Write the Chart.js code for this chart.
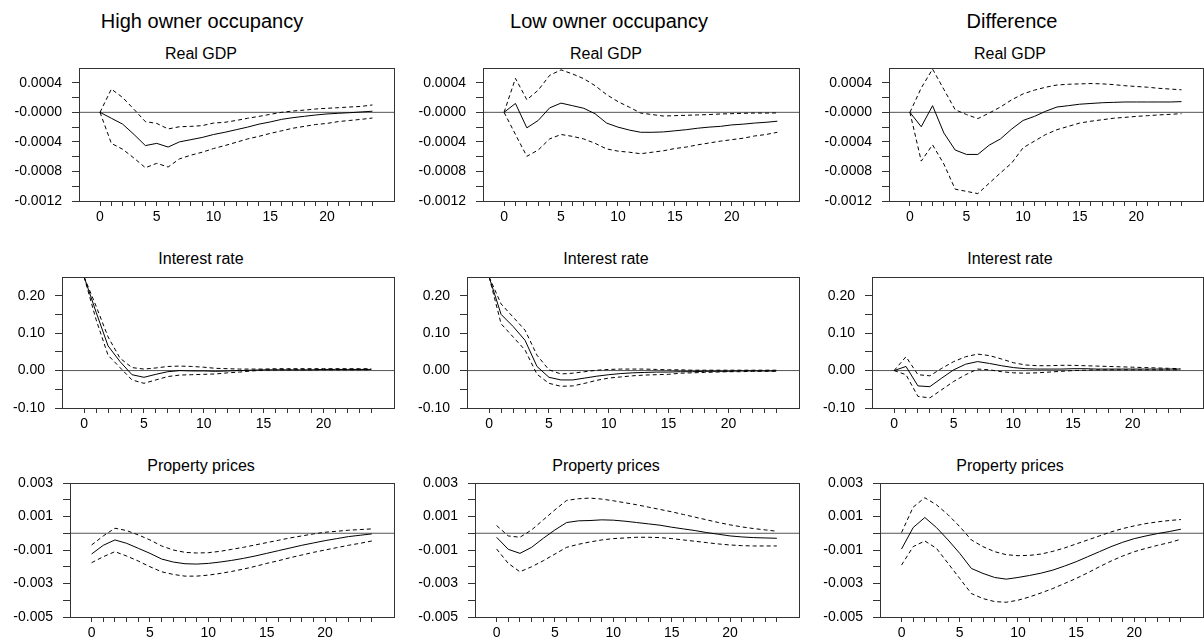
<!DOCTYPE html>
<html>
<head>
<meta charset="utf-8">
<script src="https://cdn.jsdelivr.net/npm/chart.js@4.4.1/dist/chart.umd.min.js"></script>
<style>
  body { margin: 0; width: 1204px; height: 640px; background: #fff; position: relative; overflow: hidden; font-family: "Liberation Sans", Arial, sans-serif; color: #000; }
  .head { position: absolute; width: 300px; text-align: center; font-size: 20px; line-height: 20px; white-space: nowrap; }
  .sub { position: absolute; width: 300px; text-align: center; font-size: 16px; line-height: 16px; white-space: nowrap; }
  canvas { position: absolute; }
</style>
</head>
<body>
<script>
// horizon (quarters) and x axis
const steps = [0, 1, 2, 3, 4, 5, 6, 7, 8, 9, 10, 11, 12, 13, 14, 15, 16, 17, 18, 19, 20, 21, 22, 23, 24];
const xRange = [-1.85, 25.9];
const xTickValues = [0, 5, 10, 15, 20];
const xTickLabels = ['0', '5', '10', '15', '20'];

const columnTitles = ['High owner occupancy', 'Low owner occupancy', 'Difference'];
const rowTitles = ['Real GDP', 'Interest rate', 'Property prices'];

// y axes
const gdpRange = [-0.0012, 0.0006];
const gdpMajor = [-0.0012, -0.0008, -0.0004, 0, 0.0004];
const gdpLabels = ['-0.0012', '-0.0008', '-0.0004', '-0.0000', '0.0004'];
const gdpMinor = [-0.001, -0.0006, -0.0002, 0.0002];

const rateRange = [-0.10, 0.25];
const rateMajor = [-0.10, 0, 0.10, 0.20];
const rateLabels = ['-0.10', '0.00', '0.10', '0.20'];
const rateMinor = [-0.05, 0.05, 0.15];

const propRange = [-0.005, 0.003];
const propMajor = [-0.005, -0.003, -0.001, 0.001, 0.003];
const propLabels = ['-0.005', '-0.003', '-0.001', '0.001', '0.003'];
const propMinor = [-0.004, -0.002, 0, 0.002];

// Real GDP
const hooGdp   = [0, -0.8e-4, -1.6e-4, -3.0e-4, -4.5e-4, -4.2e-4, -4.7e-4, -4.0e-4, -3.7e-4, -3.4e-4, -3.0e-4, -2.7e-4, -2.35e-4, -2.0e-4, -1.6e-4, -1.3e-4, -0.95e-4, -0.72e-4, -0.54e-4, -0.36e-4, -0.22e-4, -0.13e-4, -0.05e-4, 0.05e-4, 0.15e-4];
const hooGdpUp = [0, 3.15e-4, 2.0e-4, 0.4e-4, -1.26e-4, -1.5e-4, -2.25e-4, -1.95e-4, -1.9e-4, -1.8e-4, -1.45e-4, -1.35e-4, -1.1e-4, -0.8e-4, -0.55e-4, -0.27e-4, 0, 0.18e-4, 0.3e-4, 0.45e-4, 0.55e-4, 0.63e-4, 0.72e-4, 0.8e-4, 1.0e-4];
const hooGdpLo = [0, -4.2e-4, -5.0e-4, -6.2e-4, -7.5e-4, -6.9e-4, -7.4e-4, -6.3e-4, -5.8e-4, -5.4e-4, -4.9e-4, -4.5e-4, -4.05e-4, -3.6e-4, -3.25e-4, -2.85e-4, -2.5e-4, -2.15e-4, -1.9e-4, -1.65e-4, -1.5e-4, -1.25e-4, -1.1e-4, -0.95e-4, -0.77e-4];

const looGdp   = [0, 1.2e-4, -2.1e-4, -1.1e-4, 0.6e-4, 1.25e-4, 0.9e-4, 0.55e-4, -0.2e-4, -1.45e-4, -2.0e-4, -2.4e-4, -2.7e-4, -2.7e-4, -2.65e-4, -2.5e-4, -2.35e-4, -2.15e-4, -2.0e-4, -1.9e-4, -1.7e-4, -1.6e-4, -1.45e-4, -1.35e-4, -1.2e-4];
const looGdpUp = [0, 4.6e-4, 1.7e-4, 3.0e-4, 5.0e-4, 5.75e-4, 5.2e-4, 4.55e-4, 3.6e-4, 2.4e-4, 1.45e-4, 0.7e-4, -0.1e-4, -0.3e-4, -0.5e-4, -0.45e-4, -0.4e-4, -0.35e-4, -0.3e-4, -0.22e-4, -0.18e-4, -0.13e-4, -0.1e-4, -0.1e-4, -0.08e-4];
const looGdpLo = [0, -3.0e-4, -5.95e-4, -5.1e-4, -3.6e-4, -3.0e-4, -3.25e-4, -3.6e-4, -4.2e-4, -4.95e-4, -5.25e-4, -5.4e-4, -5.6e-4, -5.4e-4, -5.2e-4, -4.9e-4, -4.7e-4, -4.4e-4, -4.15e-4, -3.9e-4, -3.7e-4, -3.5e-4, -3.2e-4, -3.0e-4, -2.7e-4];

const difGdp   = [0, -1.95e-4, 0.9e-4, -2.8e-4, -5.1e-4, -5.7e-4, -5.7e-4, -4.45e-4, -3.6e-4, -2.25e-4, -1.1e-4, -0.55e-4, 0.15e-4, 0.72e-4, 0.9e-4, 1.1e-4, 1.2e-4, 1.3e-4, 1.35e-4, 1.4e-4, 1.4e-4, 1.4e-4, 1.4e-4, 1.4e-4, 1.45e-4];
const difGdpUp = [0, 3.3e-4, 5.85e-4, 3.1e-4, 0.35e-4, -0.3e-4, -0.85e-4, -0.1e-4, 0.72e-4, 1.7e-4, 2.5e-4, 3.0e-4, 3.4e-4, 3.7e-4, 3.8e-4, 3.85e-4, 3.9e-4, 3.85e-4, 3.75e-4, 3.6e-4, 3.5e-4, 3.4e-4, 3.25e-4, 3.15e-4, 3.05e-4];
const difGdpLo = [0, -6.6e-4, -4.4e-4, -7.0e-4, -10.4e-4, -10.7e-4, -11.0e-4, -9.6e-4, -8.2e-4, -6.85e-4, -4.8e-4, -3.9e-4, -3.0e-4, -2.35e-4, -1.9e-4, -1.45e-4, -1.2e-4, -1.0e-4, -0.8e-4, -0.68e-4, -0.55e-4, -0.45e-4, -0.35e-4, -0.27e-4, -0.18e-4];

// Interest rate
const hooRate   = [0.25, 0.156, 0.066, 0.024, -0.011, -0.018, -0.010, -0.003, 0, -0.001, -0.001, -0.002, -0.001, 0, 0.001, 0.002, 0.002, 0.002, 0.002, 0.002, 0.003, 0.003, 0.003, 0.003, 0.003];
const hooRateUp = [0.25, 0.172, 0.090, 0.033, 0.008, 0.004, 0.007, 0.011, 0.012, 0.011, 0.009, 0.006, 0.005, 0.004, 0.004, 0.004, 0.005, 0.005, 0.005, 0.005, 0.005, 0.005, 0.005, 0.005, 0.005];
const hooRateLo = [0.25, 0.136, 0.041, 0.008, -0.025, -0.034, -0.025, -0.016, -0.012, -0.011, -0.010, -0.009, -0.006, -0.004, -0.001, 0.001, 0.002, 0.002, 0.002, 0.002, 0.002, 0.002, 0.002, 0.002, 0.002];

const looRate   = [0.25, 0.150, 0.118, 0.081, 0.011, -0.018, -0.025, -0.025, -0.020, -0.015, -0.011, -0.008, -0.006, -0.005, -0.004, -0.004, -0.003, -0.003, -0.002, -0.002, -0.002, -0.001, -0.001, -0.001, -0.001];
const looRateUp = [0.25, 0.178, 0.143, 0.108, 0.041, 0.002, -0.009, -0.007, -0.003, 0.001, 0.003, 0.004, 0.004, 0.004, 0.003, 0.002, 0.002, 0.001, 0.001, 0.001, 0.001, 0.001, 0.001, 0.001, 0.001];
const looRateLo = [0.25, 0.125, 0.090, 0.055, -0.010, -0.034, -0.042, -0.041, -0.034, -0.026, -0.020, -0.017, -0.014, -0.012, -0.011, -0.010, -0.007, -0.006, -0.005, -0.004, -0.003, -0.003, -0.002, -0.002, -0.002];

const difRate   = [0, 0.011, -0.041, -0.043, -0.020, 0.002, 0.017, 0.024, 0.019, 0.013, 0.008, 0.005, 0.004, 0.004, 0.004, 0.005, 0.005, 0.004, 0.004, 0.004, 0.004, 0.004, 0.004, 0.004, 0.004];
const difRateUp = [0, 0.037, -0.011, -0.014, 0.006, 0.024, 0.037, 0.044, 0.040, 0.031, 0.021, 0.015, 0.013, 0.013, 0.014, 0.014, 0.013, 0.012, 0.011, 0.010, 0.009, 0.008, 0.007, 0.006, 0.005];
const difRateLo = [0, -0.011, -0.069, -0.073, -0.051, -0.029, -0.011, 0.004, 0.002, -0.003, -0.006, -0.007, -0.006, -0.004, -0.002, 0, 0.001, 0.002, 0.002, 0.002, 0.002, 0.002, 0.002, 0.002, 0.002];

// Property prices
const hooProp   = [-1.24e-3, -0.72e-3, -0.4e-3, -0.6e-3, -0.9e-3, -1.2e-3, -1.54e-3, -1.72e-3, -1.82e-3, -1.84e-3, -1.8e-3, -1.72e-3, -1.62e-3, -1.5e-3, -1.36e-3, -1.2e-3, -1.04e-3, -0.88e-3, -0.72e-3, -0.58e-3, -0.44e-3, -0.32e-3, -0.2e-3, -0.12e-3, -0.04e-3];
const hooPropUp = [-0.7e-3, -0.16e-3, 0.3e-3, 0.16e-3, -0.1e-3, -0.4e-3, -0.76e-3, -1.0e-3, -1.14e-3, -1.18e-3, -1.16e-3, -1.08e-3, -0.96e-3, -0.84e-3, -0.7e-3, -0.56e-3, -0.42e-3, -0.28e-3, -0.16e-3, -0.04e-3, 0.06e-3, 0.12e-3, 0.18e-3, 0.22e-3, 0.26e-3];
const hooPropLo = [-1.76e-3, -1.4e-3, -1.1e-3, -1.36e-3, -1.66e-3, -2.0e-3, -2.3e-3, -2.46e-3, -2.56e-3, -2.56e-3, -2.5e-3, -2.4e-3, -2.28e-3, -2.14e-3, -1.98e-3, -1.8e-3, -1.64e-3, -1.46e-3, -1.3e-3, -1.14e-3, -1.0e-3, -0.86e-3, -0.72e-3, -0.6e-3, -0.46e-3];

const looProp   = [-0.24e-3, -0.96e-3, -1.2e-3, -0.84e-3, -0.3e-3, 0.2e-3, 0.64e-3, 0.74e-3, 0.76e-3, 0.8e-3, 0.78e-3, 0.72e-3, 0.64e-3, 0.56e-3, 0.48e-3, 0.36e-3, 0.26e-3, 0.16e-3, 0.04e-3, -0.06e-3, -0.16e-3, -0.22e-3, -0.26e-3, -0.28e-3, -0.3e-3];
const looPropUp = [0.46e-3, -0.16e-3, -0.24e-3, 0.2e-3, 0.8e-3, 1.4e-3, 1.96e-3, 2.06e-3, 2.1e-3, 2.04e-3, 1.94e-3, 1.82e-3, 1.7e-3, 1.56e-3, 1.42e-3, 1.28e-3, 1.12e-3, 0.96e-3, 0.8e-3, 0.64e-3, 0.5e-3, 0.38e-3, 0.28e-3, 0.2e-3, 0.12e-3];
const looPropLo = [-0.94e-3, -1.8e-3, -2.3e-3, -2.0e-3, -1.64e-3, -1.24e-3, -0.84e-3, -0.66e-3, -0.52e-3, -0.4e-3, -0.32e-3, -0.28e-3, -0.24e-3, -0.24e-3, -0.26e-3, -0.32e-3, -0.4e-3, -0.48e-3, -0.56e-3, -0.64e-3, -0.7e-3, -0.74e-3, -0.76e-3, -0.76e-3, -0.76e-3];

const difProp   = [-0.94e-3, 0.34e-3, 0.94e-3, 0.34e-3, -0.4e-3, -1.2e-3, -2.1e-3, -2.4e-3, -2.64e-3, -2.74e-3, -2.64e-3, -2.52e-3, -2.38e-3, -2.2e-3, -1.96e-3, -1.7e-3, -1.4e-3, -1.1e-3, -0.8e-3, -0.54e-3, -0.32e-3, -0.16e-3, -0.02e-3, 0.1e-3, 0.24e-3];
const difPropUp = [0.04e-3, 1.56e-3, 2.12e-3, 1.7e-3, 1.1e-3, 0.4e-3, -0.4e-3, -0.8e-3, -1.1e-3, -1.28e-3, -1.34e-3, -1.32e-3, -1.24e-3, -1.08e-3, -0.88e-3, -0.64e-3, -0.4e-3, -0.16e-3, 0.08e-3, 0.28e-3, 0.44e-3, 0.58e-3, 0.68e-3, 0.76e-3, 0.82e-3];
const difPropLo = [-1.9e-3, -0.8e-3, -0.46e-3, -0.9e-3, -1.8e-3, -2.7e-3, -3.6e-3, -3.9e-3, -4.08e-3, -4.12e-3, -4.0e-3, -3.8e-3, -3.56e-3, -3.3e-3, -3.0e-3, -2.7e-3, -2.36e-3, -2.0e-3, -1.66e-3, -1.36e-3, -1.1e-3, -0.9e-3, -0.72e-3, -0.56e-3, -0.36e-3];

// layout of the 3x3 grid (pixel positions of each plot box)
const colStart = [0, 400, 800];
const colWidth = [400, 400, 404];
const boxRight = [394, 799, 1203];
const boxTop = [68, 277, 483];
const boxBottom = [201, 408, 617];
const boxLeft = [[79, 483, 889], [62, 467, 872], [70, 475, 880]];
const headCenter = [202, 609, 1012];
const subCenter = [201, 606, 1010];
const subTop = [46, 251, 458];
const padTop = 20;   // room for the y tick label overflow above the box
const xAxisH = 30;

const yAxes = [
    { range: gdpRange, major: gdpMajor, labels: gdpLabels, minor: gdpMinor },
    { range: rateRange, major: rateMajor, labels: rateLabels, minor: rateMinor },
    { range: propRange, major: propMajor, labels: propLabels, minor: propMinor }
];
const series = [
    [[hooGdp, hooGdpUp, hooGdpLo], [looGdp, looGdpUp, looGdpLo], [difGdp, difGdpUp, difGdpLo]],
    [[hooRate, hooRateUp, hooRateLo], [looRate, looRateUp, looRateLo], [difRate, difRateUp, difRateLo]],
    [[hooProp, hooPropUp, hooPropLo], [looProp, looPropUp, looPropLo], [difProp, difPropUp, difPropLo]]
];

const tickFont = { family: 'Liberation Sans, Arial, sans-serif', size: 14 };
const axisColor = '#333';

const framePlugin = {
    id: 'frame',
    afterDraw(chart) {
        const a = chart.chartArea, ctx = chart.ctx;
        ctx.save();
        ctx.strokeStyle = axisColor;
        ctx.lineWidth = 1;
        ctx.strokeRect(a.left + 0.5, a.top + 0.5, a.right - a.left, a.bottom - a.top);
        ctx.restore();
    }
};

function addText(cls, text, center, top) {
    const d = document.createElement('div');
    d.className = cls;
    d.textContent = text;
    d.style.left = (center - 150) + 'px';
    d.style.top = top + 'px';
    document.body.appendChild(d);
}

function points(arr) {
    return arr.map((v, i) => ({ x: steps[i], y: v }));
}

function makePanel(r, c) {
    const ax = yAxes[r];
    const [solid, upper, lower] = series[r][c];
    const w = colWidth[c];
    const h = boxBottom[r] - boxTop[r] + padTop + xAxisH;
    const canvas = document.createElement('canvas');
    canvas.width = w;
    canvas.height = h;
    canvas.style.left = colStart[c] + 'px';
    canvas.style.top = (boxTop[r] - padTop) + 'px';
    document.body.appendChild(canvas);

    new Chart(canvas, {
        type: 'line',
        data: {
            datasets: [
                { data: points(solid), borderColor: '#000', borderWidth: 1 },
                { data: points(upper), borderColor: '#000', borderWidth: 1, borderDash: [4, 3] },
                { data: points(lower), borderColor: '#000', borderWidth: 1, borderDash: [4, 3] },
                { data: [{ x: xRange[0], y: 0 }, { x: xRange[1], y: 0 }], borderColor: '#555', borderWidth: 1 }
            ]
        },
        options: {
            responsive: false,
            animation: false,
            devicePixelRatio: 1,
            elements: { point: { radius: 0 }, line: { tension: 0 } },
            layout: { padding: { left: 0, right: w - (boxRight[c] - colStart[c]), top: padTop, bottom: 0 } },
            plugins: { legend: { display: false }, tooltip: { enabled: false } },
            scales: {
                x: {
                    type: 'linear',
                    min: xRange[0],
                    max: xRange[1],
                    border: { display: false },
                    grid: { drawOnChartArea: false, drawTicks: true, tickLength: 5, color: axisColor },
                    ticks: {
                        autoSkip: false, maxRotation: 0, padding: 3, color: '#000', font: tickFont,
                        callback: v => {
                            const i = xTickValues.indexOf(v);
                            return i >= 0 ? xTickLabels[i] : '';
                        }
                    },
                    afterBuildTicks: s => { s.ticks = steps.map(v => ({ value: v })); },
                    afterFit: s => { s.height = xAxisH; }
                },
                y: {
                    type: 'linear',
                    min: ax.range[0],
                    max: ax.range[1],
                    border: { display: false },
                    grid: { drawOnChartArea: false, drawTicks: true, tickLength: 7, color: axisColor },
                    ticks: {
                        autoSkip: false, padding: 10, color: '#000', font: tickFont,
                        callback: v => {
                            const i = ax.major.findIndex(m => Math.abs(m - v) < 1e-9);
                            return i >= 0 ? ax.labels[i] : '';
                        }
                    },
                    afterBuildTicks: s => {
                        s.ticks = ax.major.concat(ax.minor).sort((a, b) => a - b).map(v => ({ value: v }));
                    },
                    afterFit: s => { s.width = boxLeft[r][c] - colStart[c]; }
                }
            }
        },
        plugins: [framePlugin]
    });
}

for (let c = 0; c < 3; c++) {
    addText('head', columnTitles[c], headCenter[c], 11);
}
for (let r = 0; r < 3; r++) {
    for (let c = 0; c < 3; c++) {
        addText('sub', rowTitles[r], subCenter[c], subTop[r]);
        makePanel(r, c);
    }
}
</script>
</body>
</html>
